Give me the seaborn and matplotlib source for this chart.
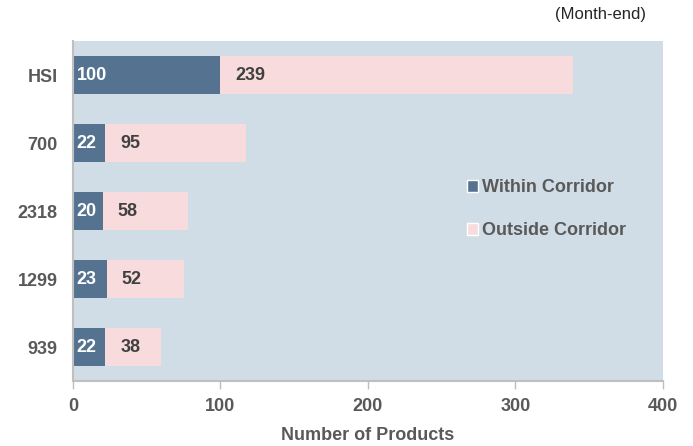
import matplotlib
matplotlib.use("Agg")
import matplotlib.pyplot as plt
import seaborn as sns
import pandas as pd
from matplotlib.patches import Patch

categories = ["HSI", "700", "2318", "1299", "939"]
within = [100, 22, 20, 23, 22]
outside = [239, 95, 58, 52, 38]
xticks = [0, 100, 200, 300, 400]

sns.set_theme(style="white")
plt.rcParams["font.family"] = ["Liberation Sans", "DejaVu Sans"]

BLUE = "#557391"
PINK = "#F8DCDD"
BG = "#D0DDE6"
TXT = "#595959"
FS = 13

df = pd.DataFrame({"cat": categories, "within": within, "outside": outside})
df["total"] = df["within"] + df["outside"]

fig = plt.figure(figsize=(6.93, 4.46), dpi=100)
ax = fig.add_axes([73 / 693, 1 - 381 / 446, 590 / 693, 340 / 446])
ax.set_facecolor(BG)

sns.barplot(data=df, x="total", y="cat", order=categories, color=PINK,
            width=0.56, saturation=1, ax=ax, orient="h", linewidth=0)
sns.barplot(data=df, x="within", y="cat", order=categories, color=BLUE,
            width=0.56, saturation=1, ax=ax, orient="h", linewidth=0)

for i, (w, o) in enumerate(zip(within, outside)):
    ax.text(2.5, i, str(w), color="white", fontsize=FS, fontweight="bold",
            va="center", ha="left")
    ax.text(w + 10, i, str(o), color="#404040", fontsize=FS, fontweight="bold",
            va="center", ha="left")

ax.set_xlim(0, 400)
ax.set_ylim(4.5, -0.5)
ax.set_xticks(xticks)
ax.set_xticklabels([str(t) for t in xticks], fontsize=FS, fontweight="bold", color=TXT)
ax.set_yticklabels(categories, fontsize=FS, fontweight="bold", color=TXT)
ax.set_ylabel("")
ax.set_xlabel("Number of Products", fontsize=FS, fontweight="bold", color=TXT, labelpad=9)

for s in ["top", "right"]:
    ax.spines[s].set_visible(False)
for s in ["left", "bottom"]:
    ax.spines[s].set_color("#BFBFBF")
    ax.spines[s].set_linewidth(1.5)
ax.tick_params(axis="x", length=6, color="#BFBFBF", width=1, pad=6, direction="out", bottom=True)
ax.tick_params(axis="y", length=0, pad=11)

handles = [Patch(facecolor=BLUE, label="Within Corridor"),
           Patch(facecolor=PINK, label="Outside Corridor")]
leg = ax.legend(handles=handles, loc="center left", bbox_to_anchor=(0.64, 0.505),
                frameon=False, handlelength=0.6, handleheight=0.65, handletextpad=0.25,
                labelspacing=1.45, prop={"size": FS, "weight": "bold"})
for t in leg.get_texts():
    t.set_color(TXT)

fig.text(600 / 693, 1 - 15 / 446, "(Month-end)", fontsize=12, color="#262626",
         ha="center", va="center")

fig.savefig("out.png", dpi=100)
